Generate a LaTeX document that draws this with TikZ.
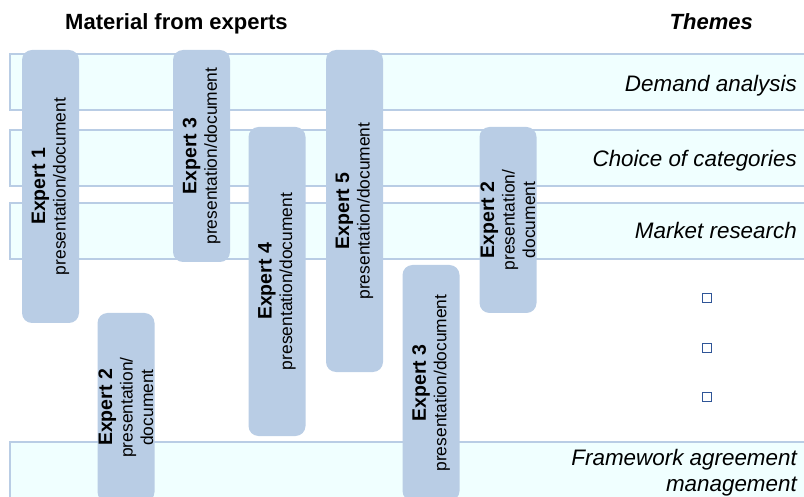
\documentclass[tikz,border=0pt]{standalone}
\usepackage{fontspec}
\setmainfont{Liberation Sans}

\definecolor{boxblue}{HTML}{B9CDE5}
\definecolor{bandfill}{HTML}{F0FFFF}
\definecolor{bulletblue}{HTML}{2F5597}

\tikzset{
  band/.style={draw=boxblue, line width=2pt, fill=bandfill, inner sep=0pt},
  expertbox/.style={fill=boxblue, rounded corners=10pt, rotate=90, minimum height=57pt,
    inner sep=0pt, align=center, font=\fontsize{17.4}{20.5}\selectfont},
  theme/.style={font=\fontsize{22.4}{26}\selectfont\itshape, inner sep=0pt, align=right},
  heading/.style={font=\fontsize{22}{26}\selectfont\bfseries, inner sep=0pt},
  bullet/.style={draw=bulletblue, line width=1pt, minimum size=9pt, inner sep=0pt}
}

\begin{document}
\begin{tikzpicture}[x=1pt, y=-1pt]
        \useasboundingbox (0,0) rectangle (804,497);
        \clip (0,0) rectangle (804,497);
        \foreach \nm/\y/\h in {bDemand/82/56, bChoice/158/56, bMarket/231/56, bFramework/476/68}
        {
            \node[band, minimum width=810pt, minimum height=\h pt] (\nm) at (415,\y) {};
        }
        \foreach \nm/\x/\y/\len/\num/\lbl in {
            eOne/50.5/186.5/273/1/{presentation/document},
            eThreeA/201.5/156/212/3/{presentation/document},
            eFour/277/281.5/309/4/{presentation/document},
            eFive/354.5/211/322/5/{presentation/document},
            eTwoA/508/220/186/2/{presentation/\\document},
            eTwoB/126/407.5/189/2/{presentation/\\document},
            eThreeB/431/383/236/3/{presentation/document}}
        {
            \node[expertbox, minimum width=\len pt] (\nm) at (\x,\y)
                {{\fontsize{19.5}{22}\selectfont\bfseries Expert \num}\\\lbl};
        }
        \node[heading, anchor=base] (tMaterial) at (176.5,30) {Material from experts};
        \node[heading, anchor=base east, font=\fontsize{22}{26}\selectfont\bfseries\itshape] (tThemes) at (753,30) {Themes};
        \node[theme, anchor=base east] (tDemand) at (797,92) {Demand analysis};
        \node[theme, anchor=base east] (tChoice) at (797,167) {Choice of categories};
        \node[theme, anchor=base east] (tMarket) at (797,239) {Market research};
        \node[theme, anchor=east] (tFramework) at (797,473) {Framework agreement\\management};
        \foreach \nm/\y in {qOne/298, qTwo/348, qThree/397}
        {
            \node[bullet] (\nm) at (707,\y) {};
        }
    \end{tikzpicture}
\end{document}
